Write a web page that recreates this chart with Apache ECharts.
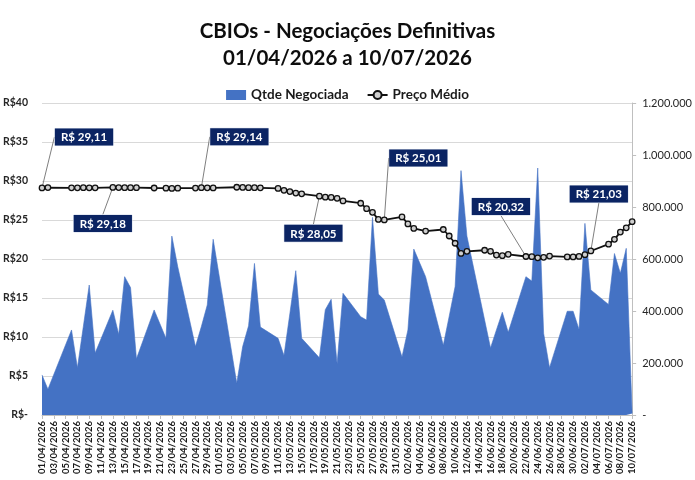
<!DOCTYPE html>
<html>
<head>
<meta charset="utf-8">
<script src="https://cdn.jsdelivr.net/npm/echarts@6/dist/echarts.min.js"></script>
<style>
html,body{margin:0;padding:0;background:#ffffff;}
#chart{width:695px;height:480px;}
</style>
</head>
<body>
<div id="chart"></div>
<script>
// ---- data ----
const categories = [
'01/04/2026','02/04/2026','03/04/2026','04/04/2026','05/04/2026','06/04/2026','07/04/2026','08/04/2026','09/04/2026','10/04/2026',
'11/04/2026','12/04/2026','13/04/2026','14/04/2026','15/04/2026','16/04/2026','17/04/2026','18/04/2026','19/04/2026','20/04/2026',
'21/04/2026','22/04/2026','23/04/2026','24/04/2026','25/04/2026','26/04/2026','27/04/2026','28/04/2026','29/04/2026','30/04/2026',
'01/05/2026','02/05/2026','03/05/2026','04/05/2026','05/05/2026','06/05/2026','07/05/2026','08/05/2026','09/05/2026','10/05/2026',
'11/05/2026','12/05/2026','13/05/2026','14/05/2026','15/05/2026','16/05/2026','17/05/2026','18/05/2026','19/05/2026','20/05/2026',
'21/05/2026','22/05/2026','23/05/2026','24/05/2026','25/05/2026','26/05/2026','27/05/2026','28/05/2026','29/05/2026','30/05/2026',
'31/05/2026','01/06/2026','02/06/2026','03/06/2026','04/06/2026','05/06/2026','06/06/2026','07/06/2026','08/06/2026','09/06/2026',
'10/06/2026','11/06/2026','12/06/2026','13/06/2026','14/06/2026','15/06/2026','16/06/2026','17/06/2026','18/06/2026','19/06/2026',
'20/06/2026','21/06/2026','22/06/2026','23/06/2026','24/06/2026','25/06/2026','26/06/2026','27/06/2026','28/06/2026','29/06/2026',
'30/06/2026','01/07/2026','02/07/2026','03/07/2026','04/07/2026','05/07/2026','06/07/2026','07/07/2026','08/07/2026','09/07/2026',
'10/07/2026'
];
// Qtde Negociada (null = no trading day)
const qtde = [
154000, 99000, null, null, null, 327000, 182000, 340000, 500000, 238000,
null, null, 403000, 310000, 532000, 490000, 216000, null, null, 404000,
null, 295000, 688000, 570000, null, null, 263000, 340000, 423000, 676000,
null, null, null, 122000, 263000, 343000, 583000, 338000, null, null,
295000, 229000, 390000, 555000, 295000, null, null, 220000, 405000, 445000,
197000, 468000, null, null, 378000, 365000, 760000, 465000, 442000, null,
null, 223000, 327000, 638000, null, 532000, null, null, 268000, 380000,
494000, 940000, 688000, null, null, 365000, 258000, 327000, 395000, 318000,
null, null, 532000, 515000, 950000, 314000, 182000, null, null, 399000,
399000, 329000, 737000, 481000, null, null, 425000, 621000, 545000, 641000,
6000
];
// Preço Médio (R$)
const preco = [
29.11, 29.16, null, null, null, 29.13, 29.12, 29.14, 29.12, 29.13,
null, null, 29.18, 29.16, 29.15, 29.14, 29.15, null, null, 29.10,
null, 29.08, 29.05, 29.08, null, null, 29.09, 29.14, 29.12, 29.11,
null, null, null, 29.20, 29.17, 29.15, 29.14, 29.13, null, null,
29.05, 28.80, 28.65, 28.45, 28.35, null, null, 28.05, 27.92, 27.90,
27.78, 27.45, null, null, 27.15, 26.45, 25.98, 25.08, 25.01, null,
null, 25.40, 24.50, 23.92, null, 23.58, null, null, 23.78, 22.95,
22.02, 20.72, 20.98, null, null, 21.12, 20.98, 20.50, 20.42, 20.60,
null, null, 20.32, 20.30, 20.15, 20.22, 20.38, null, null, 20.26,
20.26, 20.33, 20.55, 21.03, null, null, 21.90, 22.52, 23.45, 24.00,
24.78
];
const labeledDates = ['01/04/2026','13/04/2026','28/04/2026','18/05/2026','29/05/2026','22/06/2026','03/07/2026'];
const leftTicks = [0, 5, 10, 15, 20, 25, 30, 35, 40];
const rightTicks = [0, 200000, 400000, 600000, 800000, 1000000, 1200000];

// ---- layout (label offsets from their point) ----
const labelShift = {
  '01/04/2026': [42, -34],
  '13/04/2026': [-10, 53],
  '28/04/2026': [38, -34],
  '18/05/2026': [-6, 54],
  '29/05/2026': [34, -45],
  '22/06/2026': [-25, -33],
  '03/07/2026': [8, -40]
};

const fmtBR = v => String(v).replace(/\B(?=(\d{3})+(?!\d))/g, '.');
const fmtPrice = v => 'R$ ' + v.toFixed(2).replace('.', ',');

const priceData = preco.map((v, i) => labeledDates.indexOf(categories[i]) >= 0
  ? { value: v, label: { show: true } } : v);

const FONT = 'Lato, "Open Sans", sans-serif';
const chart = echarts.init(document.getElementById('chart'));
chart.setOption({
  animation: false,
  backgroundColor: '#ffffff',
  textStyle: { fontFamily: FONT },
  title: {
    text: 'CBIOs - Negociações Definitivas\n01/04/2026 a 10/07/2026',
    left: 'center', top: 13,
    textStyle: { fontFamily: FONT, fontSize: 20.5, fontWeight: 'bold', color: '#0d0d0d', lineHeight: 27 }
  },
  legend: {
    top: 83, left: 'center', itemGap: 18, itemWidth: 20, itemHeight: 10,
    textStyle: { fontFamily: FONT, fontSize: 13.5, fontWeight: 'bold', color: '#1a1a1a' },
    data: [
      { name: 'Qtde Negociada', icon: 'rect' },
      { name: 'Preço Médio' }
    ]
  },
  grid: { left: 41, right: 61, top: 103, bottom: 65, containLabel: false },
  xAxis: {
    type: 'category', data: categories, boundaryGap: false,
    axisLine: { show: true, lineStyle: { color: '#bfbfbf' } },
    axisTick: { show: true, interval: 1, length: 4, lineStyle: { color: '#bfbfbf' } },
    axisLabel: { interval: 1, rotate: 90, margin: 6, fontFamily: FONT, fontSize: 9.5, fontWeight: 'bold', color: '#1a1a1a' },
    splitLine: { show: false }
  },
  yAxis: [
    {
      type: 'value', min: leftTicks[0], max: leftTicks[leftTicks.length - 1], interval: 5,
      axisLine: { show: false }, axisTick: { show: false },
      axisLabel: { margin: 14, fontFamily: FONT, fontSize: 10.5, fontWeight: 'bold', color: '#262626',
        formatter: v => v === 0 ? 'R$-' : 'R$' + v },
      splitLine: { show: true, lineStyle: { color: '#d9d9d9', width: 1 } }
    },
    {
      type: 'value', min: rightTicks[0], max: rightTicks[rightTicks.length - 1], interval: 200000,
      position: 'right',
      axisLine: { show: true, lineStyle: { color: '#bfbfbf' } },
      axisTick: { show: true, length: 4, lineStyle: { color: '#bfbfbf' } },
      axisLabel: { margin: 10, fontFamily: FONT, fontSize: 11, color: '#262626',
        formatter: v => v === 0 ? '-' : fmtBR(v) },
      splitLine: { show: false }
    }
  ],
  series: [
    {
      name: 'Qtde Negociada', type: 'line', yAxisIndex: 1, data: qtde,
      connectNulls: true, symbol: 'none', showSymbol: false, z: 1,
      lineStyle: { width: 0.6, color: '#4472C4' },
      itemStyle: { color: '#4472C4' },
      areaStyle: { color: '#4472C4', opacity: 1 }
    },
    {
      name: 'Preço Médio', type: 'line', yAxisIndex: 0, data: priceData,
      connectNulls: true, symbol: 'circle', symbolSize: 5.5, showAllSymbol: true, z: 3,
      lineStyle: { width: 1.8, color: '#111111' },
      itemStyle: { color: '#cfcfcf', borderColor: '#111111', borderWidth: 1.3 },
      label: {
        show: false, position: 'top', formatter: p => fmtPrice(p.value),
        backgroundColor: '#0b2463', color: '#ffffff', fontFamily: FONT, fontSize: 11.5, fontWeight: 'bold',
        padding: [3, 6, 2, 6], borderColor: '#d0d8e8', borderWidth: 0.5
      },
      labelLine: { show: true, lineStyle: { color: '#7f7f7f', width: 1 } },
      labelLayout: p => {
        const s = labelShift[categories[p.dataIndex]];
        return s ? { dx: s[0], dy: s[1] } : {};
      }
    }
  ]
});
</script>
</body>
</html>
